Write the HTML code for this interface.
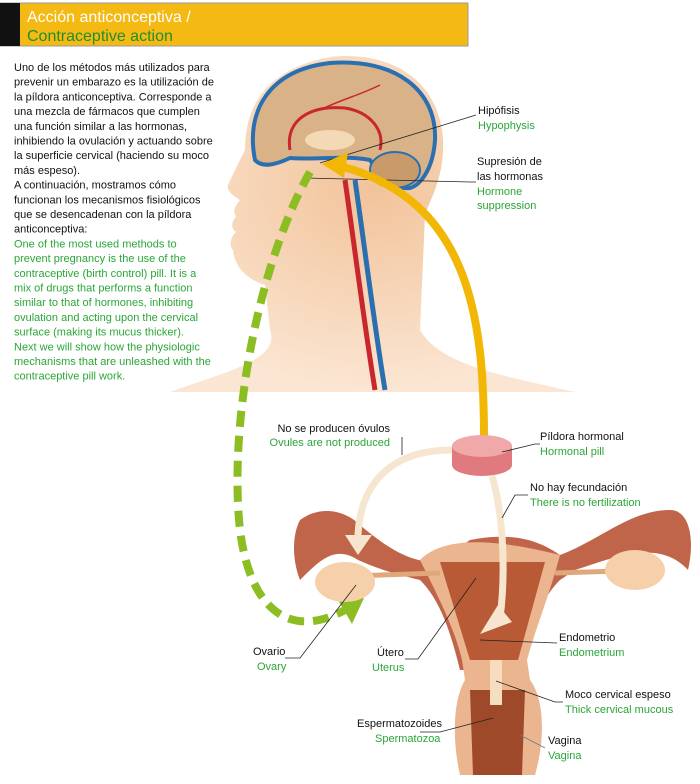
<!DOCTYPE html>
<html><head><meta charset="utf-8"><style>
body{margin:0;background:#fff;width:700px;height:779px;overflow:hidden;font-family:"Liberation Sans",sans-serif}
svg text{font-family:"Liberation Sans",sans-serif;font-size:11px}
.g{fill:#2aa637}.k{fill:#111}
</style></head><body>
<svg width="700" height="779" viewBox="0 0 700 779">
<defs>
<radialGradient id="sk" cx="0.5" cy="0.4" r="0.6"><stop offset="0" stop-color="#f2c39a"/><stop offset="1" stop-color="#fbe6d3"/></radialGradient>
</defs>
<rect x="0" y="3" width="468" height="43" fill="#f5b914" stroke="#999" stroke-width="1"/>
<rect x="0" y="3" width="20" height="43" fill="#111"/>
<text x="27" y="22" style="font-size:16px;fill:#fff">Acción anticonceptiva /</text>
<text x="27" y="41" style="font-size:16px;fill:#1f8f2e">Contraceptive action</text>
<path d="M170 392 C230 370 280 360 270 330 L265 285 C250 280 235 270 233 250 C228 245 232 235 236 232 C230 228 232 220 236 217 C232 210 236 205 240 200 C233 196 226 190 228 185 C235 170 240 160 245 150 C245 110 262 70 330 57 C390 50 440 80 443 140 C445 175 430 200 425 215 L420 330 C440 365 500 375 575 392 Z" fill="url(#sk)"/>
<path d="M255 160 C245 110 270 70 330 63 C395 58 437 90 435 140 C433 170 420 185 410 188 C390 190 380 175 370 160 C345 155 320 160 290 158 C275 165 262 168 255 160 Z" fill="#d9b387" stroke="#2a6fb0" stroke-width="4"/>
<ellipse cx="395" cy="170" rx="25" ry="18" fill="#c99a6a" stroke="#2a6fb0" stroke-width="2"/>
<path d="M290 150 C285 120 310 105 345 108 C370 112 385 130 380 150" fill="none" stroke="#c8272e" stroke-width="3"/>
<path d="M320 110 C340 100 360 95 380 85" fill="none" stroke="#c8272e" stroke-width="1.5"/>
<path d="M345 180 C355 250 365 330 375 390" fill="none" stroke="#c8272e" stroke-width="5"/>
<path d="M355 180 C365 250 375 330 385 390" fill="none" stroke="#2a6fb0" stroke-width="5"/>
<ellipse cx="330" cy="140" rx="25" ry="10" fill="#f3d9b5"/>
<text x="14" y="71" class="k"><tspan x="14">Uno de los métodos más utilizados para</tspan><tspan x="14" dy="14.7">prevenir un embarazo es la utilización de</tspan><tspan x="14" dy="14.7">la píldora anticonceptiva. Corresponde a</tspan><tspan x="14" dy="14.7">una mezcla de fármacos que cumplen</tspan><tspan x="14" dy="14.7">una función similar a las hormonas,</tspan><tspan x="14" dy="14.7">inhibiendo la ovulación y actuando sobre</tspan><tspan x="14" dy="14.7">la superficie cervical (haciendo su moco</tspan><tspan x="14" dy="14.7">más espeso).</tspan><tspan x="14" dy="14.7">A continuación, mostramos cómo</tspan><tspan x="14" dy="14.7">funcionan los mecanismos fisiológicos</tspan><tspan x="14" dy="14.7">que se desencadenan con  la píldora</tspan><tspan x="14" dy="14.7">anticonceptiva:</tspan></text>
<text x="14" y="247.4" class="g"><tspan x="14">One of the most used methods to</tspan><tspan x="14" dy="14.7">prevent pregnancy is the use of the</tspan><tspan x="14" dy="14.7">contraceptive (birth control) pill. It is a</tspan><tspan x="14" dy="14.7">mix of drugs that performs a function</tspan><tspan x="14" dy="14.7">similar to that of hormones, inhibiting</tspan><tspan x="14" dy="14.7">ovulation and acting upon the cervical</tspan><tspan x="14" dy="14.7">surface (making its mucus thicker).</tspan><tspan x="14" dy="14.7">Next we will show how the physiologic</tspan><tspan x="14" dy="14.7">mechanisms that are unleashed with the</tspan><tspan x="14" dy="14.7">contraceptive pill work.</tspan></text>
<line x1="320" y1="163" x2="476" y2="115" stroke="#222" stroke-width="0.8"/>
<text x="478" y="114" class="k">Hipófisis</text><text x="478" y="129" class="g">Hypophysis</text>
<polyline points="305,178 470,182 476,182" fill="none" stroke="#222" stroke-width="0.8"/>
<text x="477" y="165" class="k">Supresión de</text><text x="477" y="180" class="k">las hormonas</text>
<text x="477" y="195" class="g">Hormone</text><text x="477" y="209" class="g">suppression</text>
<path d="M484 438 C484 320 470 200 340 166" fill="none" stroke="#f2b705" stroke-width="8"/>
<polygon points="322,164 348,152 344,178" fill="#f2b705"/>
<path d="M310 172 C260 260 228 420 240 530 C250 610 290 640 345 610" fill="none" stroke="#8cbd22" stroke-width="8" stroke-dasharray="16 9"/>
<polygon points="364,598 338,600 352,624" fill="#8cbd22"/>
<path d="M300 520 C320 505 345 510 360 525 C395 555 420 565 440 560 L470 540 C520 530 545 545 560 555 C600 540 630 510 670 510 C690 510 695 540 688 570 C660 540 620 555 575 570 L560 580 C540 600 530 630 520 670 L460 670 C450 630 440 600 420 580 C400 575 380 570 358 560 C335 545 320 560 300 580 C292 560 292 535 300 520Z" fill="#c1654a"/>
<path d="M420 560 C440 540 480 535 560 555 C548 600 535 630 527 660 L530 680 C545 700 545 740 535 775 L460 775 C452 740 453 700 465 680 L462 660 C455 630 440 600 420 560Z" fill="#eab58f"/>
<path d="M440 562 L545 562 L518 660 L470 660Z" fill="#b85a35"/>
<path d="M470 690 L525 690 L522 775 L473 775Z" fill="#9e4a2a"/>
<rect x="490" y="660" width="12" height="45" fill="#f7ddbf"/>
<line x1="325" y1="577" x2="440" y2="573" stroke="#e0a77a" stroke-width="5"/>
<line x1="555" y1="573" x2="650" y2="570" stroke="#e0a77a" stroke-width="5"/>
<ellipse cx="345" cy="582" rx="30" ry="20" fill="#f6d0aa"/>
<ellipse cx="635" cy="570" rx="30" ry="20" fill="#f6d0aa"/>
<ellipse cx="482" cy="465" rx="30" ry="11" fill="#e17a7e"/>
<rect x="452" y="446" width="60" height="19" fill="#e17a7e"/>
<ellipse cx="482" cy="446" rx="30" ry="11" fill="#f0a8a8"/>
<path d="M452 450 C385 450 360 490 358 535" fill="none" stroke="#f7e6cf" stroke-width="7"/>
<polygon points="345,535 372,535 358,555" fill="#f7e6cf"/>
<path d="M492 476 C505 520 505 580 500 618" fill="none" stroke="#f7e6cf" stroke-width="7"/>
<polygon points="480,634 498,605 512,622" fill="#f7e6cf"/>
<polyline points="402,437 402,455" fill="none" stroke="#222" stroke-width="0.8"/>
<text x="390" y="432" class="k" text-anchor="end">No se producen óvulos</text>
<text x="390" y="446" class="g" text-anchor="end">Ovules are not produced</text>
<polyline points="502,452 535,444 540,444" fill="none" stroke="#222" stroke-width="0.8"/>
<text x="540" y="440" class="k">Píldora hormonal</text><text x="540" y="455" class="g">Hormonal pill</text>
<polyline points="502,518 515,495 528,495" fill="none" stroke="#222" stroke-width="0.8"/>
<text x="530" y="491" class="k">No hay fecundación</text><text x="530" y="506" class="g">There is no fertilization</text>
<polyline points="356,585 300,658 285,658" fill="none" stroke="#222" stroke-width="0.8"/>
<text x="253" y="655" class="k">Ovario</text><text x="257" y="670" class="g">Ovary</text>
<polyline points="476,578 418,659 405,659" fill="none" stroke="#222" stroke-width="0.8"/>
<text x="377" y="656" class="k">Útero</text><text x="372" y="671" class="g">Uterus</text>
<polyline points="480,640 557,643" fill="none" stroke="#222" stroke-width="0.8"/>
<text x="559" y="641" class="k">Endometrio</text><text x="559" y="656" class="g">Endometrium</text>
<polyline points="496,681 555,702 563,702" fill="none" stroke="#222" stroke-width="0.8"/>
<text x="565" y="698" class="k">Moco cervical espeso</text><text x="565" y="713" class="g">Thick cervical mucous</text>
<polyline points="493,718 440,732 420,732" fill="none" stroke="#222" stroke-width="0.8"/>
<text x="357" y="727" class="k">Espermatozoides</text><text x="375" y="742" class="g">Spermatozoa</text>
<polyline points="520,735 545,748" fill="none" stroke="#777" stroke-width="0.8"/>
<text x="548" y="744" class="k">Vagina</text><text x="548" y="759" class="g">Vagina</text>
</svg>
</body></html>
